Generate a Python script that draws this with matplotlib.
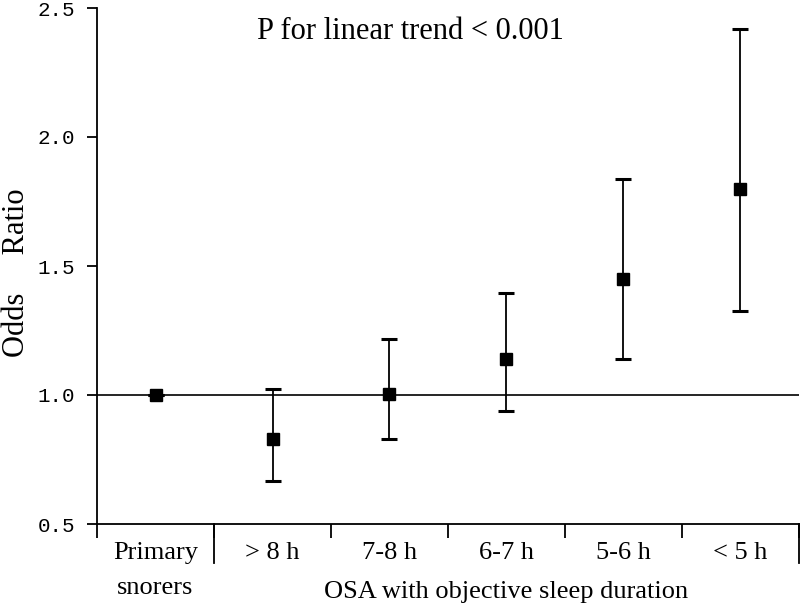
import matplotlib
matplotlib.use("Agg")
import matplotlib.pyplot as plt
import matplotlib.transforms as mtransforms

categories = ["Primary\nsnorers", "> 8 h", "7-8 h", "6-7 h", "5-6 h", "< 5 h"]
odds = [1.00, 0.83, 1.005, 1.14, 1.45, 1.80]
lower = [1.00, 0.665, 0.828, 0.938, 1.14, 1.326]
upper = [1.00, 1.022, 1.216, 1.394, 1.837, 2.42]
yticks = [0.5, 1.0, 1.5, 2.0, 2.5]
ytick_labels = ["0.5", "1.0", "1.5", "2.0", "2.5"]
group_label = "OSA with objective sleep duration"
trend_text = "P for linear trend < 0.001"

serif = ["Liberation Serif", "DejaVu Serif"]

fig = plt.figure(figsize=(8.0, 6.08), dpi=100)
ax = fig.add_axes([97/800, 1 - 524/608, 702/800, 516/608])

x = list(range(len(categories)))
err_lo = [o - l for o, l in zip(odds, lower)]
err_hi = [u - o for o, u in zip(odds, upper)]
ax.errorbar(x, odds, yerr=[err_lo, err_hi], fmt="s", color="black",
            markersize=8.5, elinewidth=1.3, capsize=6, capthick=2.2, zorder=3)
ax.axhline(1.0, color="black", lw=1.2, zorder=1)

ax.set_xlim(-0.5, len(categories) - 0.5)
ax.set_ylim(0.5, 2.5)

for s in ["top", "right"]:
    ax.spines[s].set_visible(False)
for s in ["left", "bottom"]:
    ax.spines[s].set_linewidth(1.3)

ax.set_yticks(yticks)
ax.set_yticklabels(ytick_labels, family=["Liberation Mono"], fontsize=15)
ax.tick_params(axis="y", direction="out", length=7, width=1.3, pad=9)

bounds = [i - 0.5 for i in range(len(categories) + 1)]
ax.set_xticks(bounds)
ax.set_xticklabels([""] * len(bounds))
ax.set_xticks(x, minor=True)
ax.set_xticklabels(categories, minor=True, family=serif, fontsize=19,
                   linespacing=1.75, va="top")
ax.tick_params(axis="x", which="major", direction="out", length=10, width=1.3)
ax.tick_params(axis="x", which="minor", length=0, pad=13)

trans = mtransforms.blended_transform_factory(ax.transData, ax.transAxes)
for bx in [0.5, len(categories) - 0.5]:
    ax.plot([bx, bx], [0, -0.076], transform=trans, color="black", lw=1.3,
            clip_on=False)

ax.text((1 + len(categories) - 1) / 2, -0.132, group_label, transform=trans,
        ha="center", va="center", family=serif, fontsize=19)
ax.text(2.175, 2.41, trend_text, ha="center", va="center", family=serif,
        fontsize=22)
fig.text(17/800, 1 - 273/608, "Odds     Ratio", rotation=90, ha="center",
         va="center", family=serif, fontsize=22)

fig.savefig("out.png", dpi=100)
